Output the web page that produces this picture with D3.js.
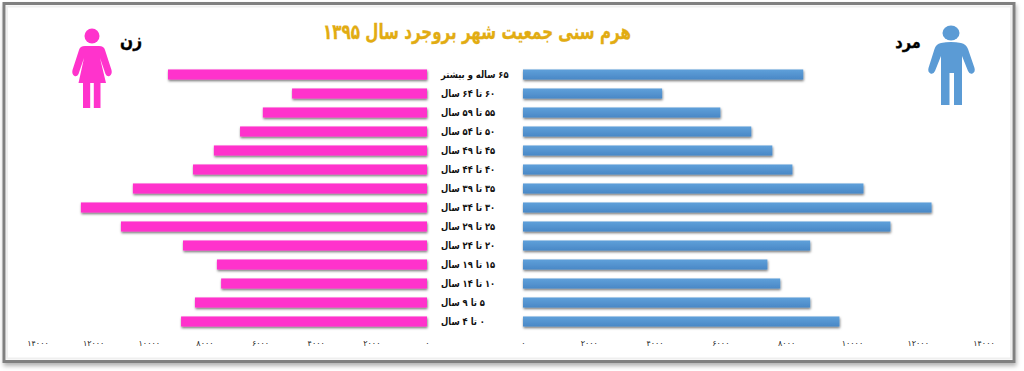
<!DOCTYPE html>
<html lang="fa">
<head>
<meta charset="utf-8">
<script src="https://d3js.org/d3.v7.min.js"></script>
<style>
html, body { margin: 0; padding: 0; background: #fff; }
svg { display: block; font-family: "DejaVu Sans", sans-serif; }
</style>
</head>
<body>
<script>
const ageGroups = [
    '۶۵ ساله و بیشتر', '۶۰ تا ۶۴ سال', '۵۵ تا ۵۹ سال', '۵۰ تا ۵۴ سال', '۴۵ تا ۴۹ سال',
    '۴۰ تا ۴۴ سال', '۳۵ تا ۳۹ سال', '۳۰ تا ۳۴ سال', '۲۵ تا ۲۹ سال', '۲۰ تا ۲۴ سال',
    '۱۵ تا ۱۹ سال', '۱۰ تا ۱۴ سال', '۵ تا ۹ سال', '۰ تا ۴ سال'
];
const female = [9310, 4850, 5900, 6720, 7660, 8410, 10570, 12440, 11000, 8770, 7550, 7400, 8340, 8840];
const male = [8520, 4230, 6000, 6940, 7580, 8190, 10350, 12420, 11170, 8730, 7430, 7820, 8730, 9620];
const axisTicks = [0, 2000, 4000, 6000, 8000, 10000, 12000, 14000];
const title = 'هرم سنی جمعیت شهر بروجرد سال ۱۳۹۵';
const femaleLabel = 'زن';
const maleLabel = 'مرد';

const width = 1024, height = 371;

const faDigits = v => String(v).replace(/\d/g, d => '۰۱۲۳۴۵۶۷۸۹'[d]);

const svg = d3.select('body').append('svg')
    .attr('width', width)
    .attr('height', height);

const defs = svg.append('defs');

const barShadow = defs.append('filter').attr('id', 'barShadow')
    .attr('x', '-5%').attr('y', '-50%').attr('width', '110%').attr('height', '220%');
barShadow.append('feDropShadow')
    .attr('dx', 0.5).attr('dy', 1.5).attr('stdDeviation', 1.2)
    .attr('flood-color', '#000').attr('flood-opacity', 0.55);

const frameShadow = defs.append('filter').attr('id', 'frameShadow')
    .attr('x', '-2%').attr('y', '-5%').attr('width', '104%').attr('height', '110%');
frameShadow.append('feDropShadow')
    .attr('dx', 1).attr('dy', 3).attr('stdDeviation', 2)
    .attr('flood-color', '#000').attr('flood-opacity', 0.3);

const blueGrad = defs.append('linearGradient').attr('id', 'blueGrad')
    .attr('x1', 0).attr('x2', 0).attr('y1', 0).attr('y2', 1);
blueGrad.append('stop').attr('offset', '0%').attr('stop-color', '#5fa0da');
blueGrad.append('stop').attr('offset', '100%').attr('stop-color', '#4a88c6');

// frame
svg.append('rect')
    .attr('x', 4).attr('y', 3.5).attr('width', 1010).attr('height', 358)
    .attr('fill', '#fff')
    .attr('stroke', '#808080').attr('stroke-width', 3)
    .attr('filter', 'url(#frameShadow)');
svg.append('rect')
    .attr('x', 7).attr('y', 6.5).attr('width', 1004).attr('height', 352)
    .attr('fill', 'none')
    .attr('stroke', '#efefef').attr('stroke-width', 2);

const y = d3.scaleBand()
    .domain(ageGroups)
    .range([65, 331])
    .paddingInner(0.47)
    .paddingOuter(0.235);

const xLeft = d3.scaleLinear().domain([0, 14000]).range([427, 37.5]);
const xRight = d3.scaleLinear().domain([0, 14000]).range([523, 983.5]);

svg.append('g')
    .selectAll('rect')
    .data(female)
    .join('rect')
    .attr('x', d => xLeft(d))
    .attr('y', (d, i) => y(ageGroups[i]))
    .attr('width', d => xLeft(0) - xLeft(d))
    .attr('height', y.bandwidth())
    .attr('fill', '#ff33cc')
    .attr('filter', 'url(#barShadow)');

svg.append('g')
    .selectAll('rect')
    .data(male)
    .join('rect')
    .attr('x', xRight(0))
    .attr('y', (d, i) => y(ageGroups[i]))
    .attr('width', d => xRight(d) - xRight(0))
    .attr('height', y.bandwidth())
    .attr('fill', 'url(#blueGrad)')
    .attr('filter', 'url(#barShadow)');

// category labels start from the same left edge, squeezed a bit like the source font
svg.append('g')
    .selectAll('text')
    .data(ageGroups)
    .join('text')
    .attr('transform', d => `translate(441,${y(d) + y.bandwidth() / 2}) scale(0.84,1)`)
    .attr('dy', '0.35em')
    .attr('text-anchor', 'end')
    .attr('direction', 'rtl')
    .attr('font-size', 10)
    .attr('font-weight', 'bold')
    .attr('fill', '#111')
    .text(d => d);

const axisFor = (scale) => d3.axisBottom(scale)
    .tickValues(axisTicks)
    .tickSize(0)
    .tickPadding(0)
    .tickFormat(faDigits);

[xLeft, xRight].forEach(scale => {
    svg.append('g')
        .attr('transform', 'translate(0,340)')
        .call(axisFor(scale))
        .call(g => g.select('.domain').remove())
        .call(g => g.selectAll('text')
            .attr('font-family', '"DejaVu Sans", sans-serif')
            .attr('font-size', 8)
            .attr('letter-spacing', 1.2)
            .attr('fill', '#222'));
});

svg.append('text')
    .attr('transform', 'translate(477,39) scale(0.72,1)')
    .attr('text-anchor', 'middle')
    .attr('direction', 'rtl')
    .attr('font-size', 21)
    .attr('font-weight', 'bold')
    .attr('fill', '#e2ac12')
    .attr('stroke', '#e2ac12')
    .attr('stroke-width', 0.3)
    .text(title);

svg.append('text')
    .attr('transform', 'translate(131,47) scale(0.85,1)')
    .attr('text-anchor', 'middle').attr('direction', 'rtl')
    .attr('font-size', 18).attr('font-weight', 'bold').attr('fill', '#000')
    .attr('stroke', '#000').attr('stroke-width', 0.4)
    .text(femaleLabel);

svg.append('text')
    .attr('transform', 'translate(908,48) scale(0.85,1)')
    .attr('text-anchor', 'middle').attr('direction', 'rtl')
    .attr('font-size', 17).attr('font-weight', 'bold').attr('fill', '#000')
    .attr('stroke', '#000').attr('stroke-width', 0.4)
    .text(maleLabel);

// woman icon
const woman = svg.append('g').attr('fill', '#ff33cc');
woman.append('circle').attr('cx', 92).attr('cy', 36).attr('r', 7.5);
woman.append('path').attr('d',
    'M85 46 L99 46 Q104 46 105 50 L111.5 70 Q112.5 74 109.5 76 Q107 77 105.5 74 L100 58 ' +
    'L106 83 L100.5 83 L100.5 108 L93.8 108 L93.8 83 L90.2 83 L90.2 108 L83 108 L83 83 L78.5 83 ' +
    'L84 58 L78.5 74 Q77 77 74.5 76 Q71.5 74 72.5 70 L79 50 Q80 46 85 46 Z');

// man icon
const man = svg.append('g').attr('fill', '#5b9bd5');
man.append('ellipse').attr('cx', 951).attr('cy', 33).attr('rx', 8.5).attr('ry', 7.5);
man.append('path').attr('d',
    'M941 43 Q951 41 961 43 Q966 44 968 49 L974.5 68 Q975.5 72 972.5 73.5 Q969.5 74.5 968 71 L962 56 ' +
    'L962 105 L954 105 L954 73 L949.5 73 L949.5 105 L941 105 L941 56 L935 71 Q933.5 74.5 930.5 73.5 ' +
    'Q927.5 72 928.5 68 L934.5 49 Q936 44 941 43 Z');
</script>
</body>
</html>
